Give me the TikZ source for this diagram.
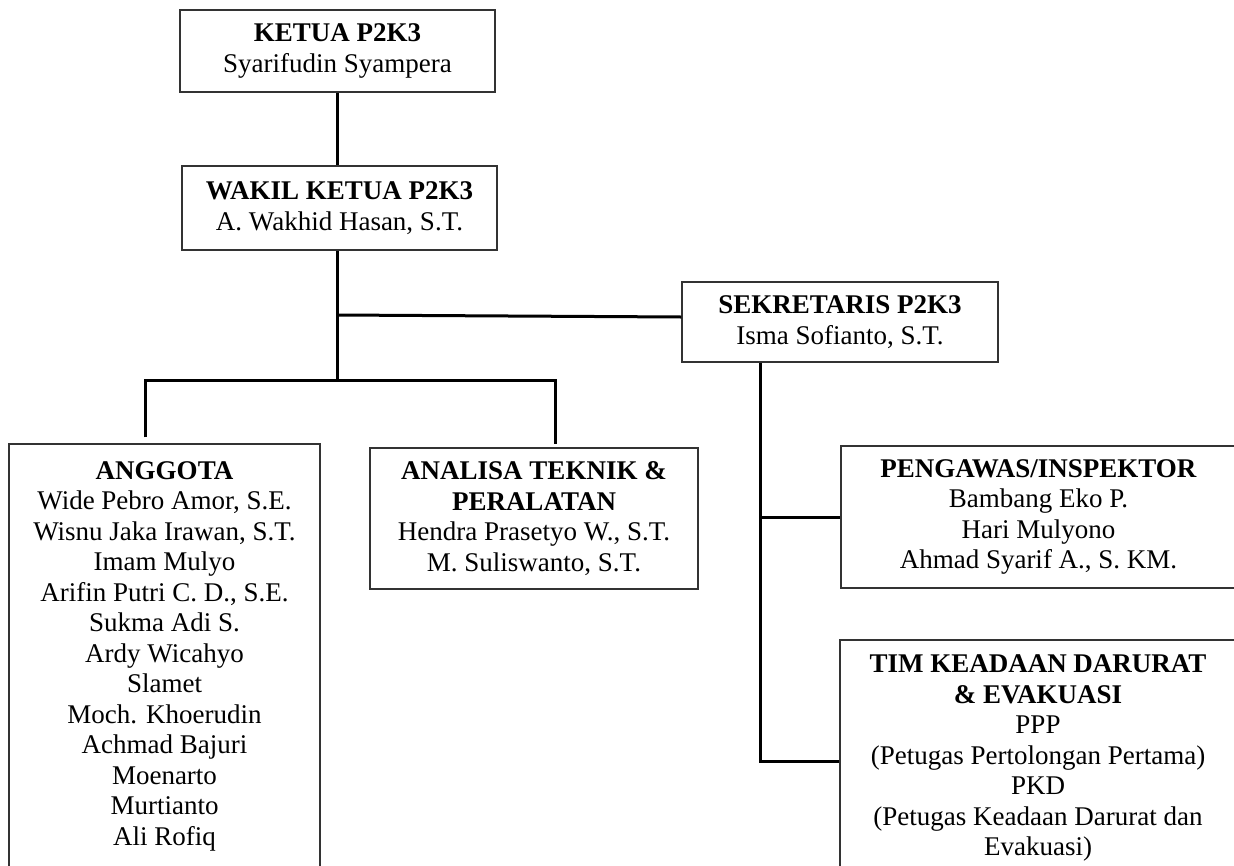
\documentclass[tikz,border=0pt]{standalone}
\usepackage{fontspec}
\setmainfont{Liberation Serif}
\begin{document}
\begin{tikzpicture}[x=1pt,y=-1pt,
  box/.style={draw=black!80, line width=1.1pt, align=center, inner sep=0pt,
    font=\fontsize{27}{30.5}\selectfont},
  conn/.style={line width=3pt, black, line join=miter}]
\useasboundingbox (0,0) rectangle (1234,865);
\begin{scope}
\clip (0,0) rectangle (1234,865);
\node[box, minimum width=315pt, minimum height=82pt] (ketua) at (337.5,51)
  {\textbf{KETUA P2K3}\\Syarifudin Syampera};
\node[box, minimum width=315pt, minimum height=84pt] (wakil) at (339.5,208)
  {\textbf{WAKIL KETUA P2K3}\\A. Wakhid Hasan, S.T.};
\node[box, minimum width=316pt, minimum height=80pt] (sek) at (840,322)
  {\textbf{SEKRETARIS P2K3}\\Isma Sofianto, S.T.};
\node[box, minimum width=311pt, minimum height=424pt] (anggota) at (164.5,656)
  {\textbf{ANGGOTA}\\Wide Pebro Amor, S.E.\\Wisnu Jaka Irawan, S.T.\\Imam Mulyo\\
   Arifin Putri C. D., S.E.\\Sukma Adi S.\\Ardy Wicahyo\\Slamet\\Moch. Khoerudin\\
   Achmad Bajuri\\Moenarto\\Murtianto\\Ali Rofiq};
\node[box, minimum width=328pt, minimum height=141pt] (analisa) at (534,518.5)
  {\textbf{ANALISA TEKNIK \&}\\\textbf{PERALATAN}\\Hendra Prasetyo W., S.T.\\M. Suliswanto, S.T.};
\node[box, minimum width=395pt, minimum height=142pt] (peng) at (1038.5,517)
  {\textbf{PENGAWAS/INSPEKTOR}\\Bambang Eko P.\\Hari Mulyono\\Ahmad Syarif A., S. KM.};
\node[box, minimum width=396pt, minimum height=236pt] (tim) at (1038,758)
  {\textbf{TIM KEADAAN DARURAT}\\\textbf{\& EVAKUASI}\\PPP\\(Petugas Pertolongan Pertama)\\
   PKD\\(Petugas Keadaan Darurat dan\\Evakuasi)};

\coordinate (j1) at (337,315);
\coordinate (bus) at (337,380);
\coordinate (bL) at (145,380);
\coordinate (bR) at (555,380);
\coordinate (sx) at (760,400);

\draw[conn] (ketua.south) -- (ketua.south |- wakil.north);
\draw[conn] (wakil.south -| j1) -- (bus);
\draw[conn] (j1) -- ([yshift=5pt]sek.west);
\draw[conn] ([yshift=6pt]bL |- anggota.north) -- (bL) -- (bR) -- ([yshift=3pt]bR |- analisa.north);
\draw[conn] (sek.south -| sx) -- ([yshift=-3pt]sx |- tim.west) -- ([yshift=-3pt]tim.west);
\draw[conn] (sx |- peng.west) -- (peng.west);
\end{scope}
\end{tikzpicture}
\end{document}
